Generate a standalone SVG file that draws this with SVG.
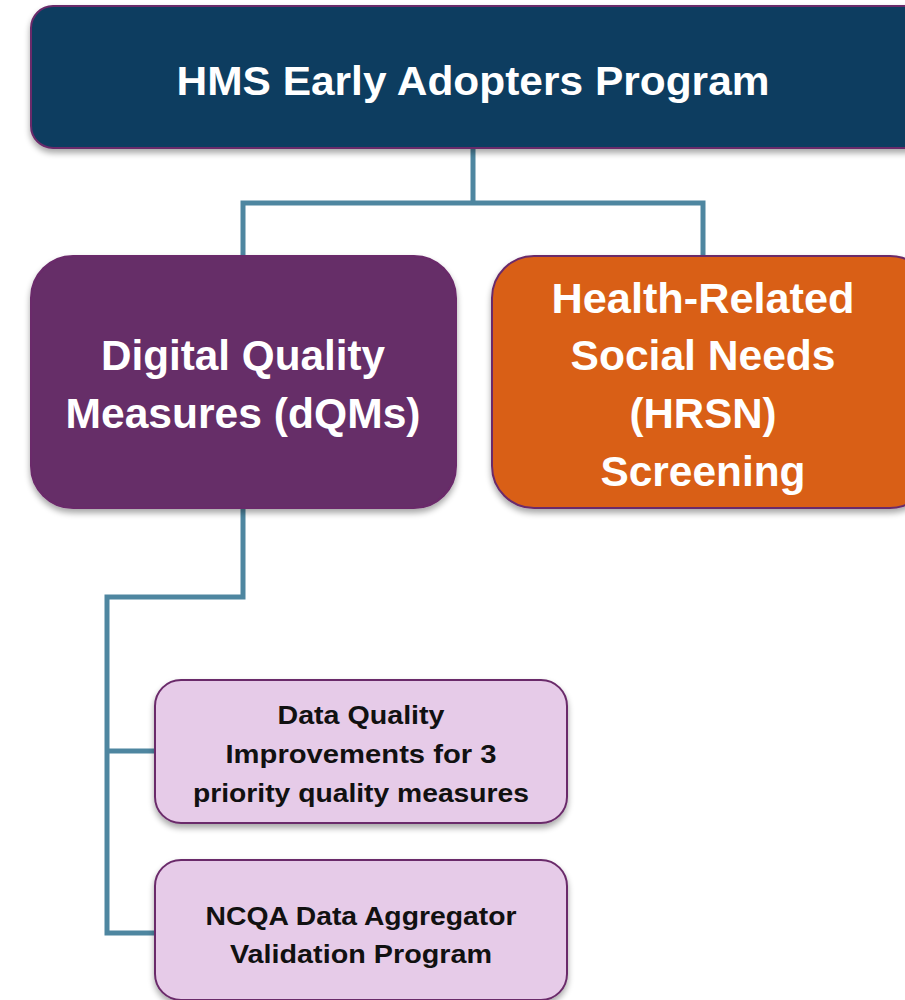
<svg xmlns="http://www.w3.org/2000/svg" width="905" height="1000" viewBox="0 0 905 1000">
<defs>
<filter id="sh" x="-10%" y="-10%" width="120%" height="130%">
<feGaussianBlur in="SourceAlpha" stdDeviation="3"/>
<feOffset dx="0" dy="4"/>
<feComponentTransfer><feFuncA type="linear" slope="0.35"/></feComponentTransfer>
<feMerge><feMergeNode/><feMergeNode in="SourceGraphic"/></feMerge>
</filter>
<style>
.conn{fill:none;stroke:#4e86a0;stroke-width:5;stroke-linejoin:miter}
.box{stroke:#6b2c6b;stroke-width:2;filter:url(#sh)}
.big{font-family:"Liberation Sans",Arial,sans-serif;font-weight:bold;fill:#ffffff;text-anchor:middle}
.small{font-family:"Liberation Sans",Arial,sans-serif;font-weight:bold;fill:#111111;text-anchor:middle;font-size:26px}
</style>
</defs>
<rect width="905" height="1000" fill="#ffffff"/>
<g id="connectors">
<path class="conn" d="M473,148 V203 M243,256 V203 H703 V256"/>
<path class="conn" d="M243,508 V597 H107 V933 H155 M107,751 H155"/>
</g>
<g id="node-hms">
<rect class="box" x="31" y="6" width="900" height="142" rx="22" fill="#0e3c61"/>
<text class="big" x="473" y="95" font-size="41" textLength="593" lengthAdjust="spacingAndGlyphs">HMS Early Adopters Program</text>
</g>
<g id="node-dqm">
<rect class="box" x="31" y="256" width="425" height="252" rx="42" fill="#662d68"/>
<text class="big" x="243" y="370" font-size="42" textLength="284" lengthAdjust="spacingAndGlyphs">Digital Quality</text>
<text class="big" x="243" y="428" font-size="42" textLength="355" lengthAdjust="spacingAndGlyphs">Measures (dQMs)</text>
</g>
<g id="node-hrsn">
<rect class="box" x="492" y="256" width="440" height="252" rx="42" fill="#d95f18"/>
<text class="big" x="703" y="313" font-size="42" textLength="303" lengthAdjust="spacingAndGlyphs">Health-Related</text>
<text class="big" x="703" y="370" font-size="42" textLength="265" lengthAdjust="spacingAndGlyphs">Social Needs</text>
<text class="big" x="703" y="428" font-size="42" textLength="147" lengthAdjust="spacingAndGlyphs">(HRSN)</text>
<text class="big" x="703" y="486" font-size="42" textLength="205" lengthAdjust="spacingAndGlyphs">Screening</text>
</g>
<g id="node-dq">
<rect class="box" x="155" y="680" width="412" height="143" rx="26" fill="#e6cbe8"/>
<text class="small" x="361" y="724" textLength="167" lengthAdjust="spacingAndGlyphs">Data Quality</text>
<text class="small" x="361" y="763" textLength="271" lengthAdjust="spacingAndGlyphs">Improvements for 3</text>
<text class="small" x="361" y="802" textLength="336" lengthAdjust="spacingAndGlyphs">priority quality measures</text>
</g>
<g id="node-ncqa">
<rect class="box" x="155" y="860" width="412" height="140" rx="26" fill="#e6cbe8"/>
<text class="small" x="361" y="925" textLength="311" lengthAdjust="spacingAndGlyphs">NCQA Data Aggregator</text>
<text class="small" x="361" y="963" textLength="262" lengthAdjust="spacingAndGlyphs">Validation Program</text>
</g>
</svg>
